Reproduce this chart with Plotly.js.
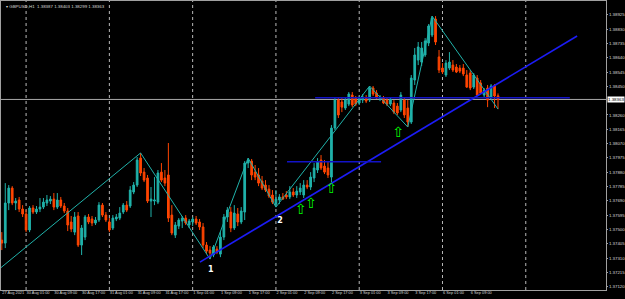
<!DOCTYPE html>
<html>
<head>
<meta charset="utf-8">
<script src="https://cdn.plot.ly/plotly-3.0.1.min.js"></script>
<style>html,body{margin:0;padding:0;background:#000;}#chart{width:625px;height:299px;}</style>
</head>
<body>
<div id="chart"></div>
<script>
// ---- data (GBPUSD H1) ----
const symbolTitle = "GBPUSD,H1  1.38387 1.38403 1.38299 1.38363";
const openP = [1.37430,1.37410,1.37676,1.37775,1.37676,1.37696,1.37636,1.37603,1.37497,1.37643,
1.37616,1.37636,1.37649,1.37676,1.37689,1.37702,1.37649,1.37696,1.37656,1.37623,
1.37550,1.37483,1.37590,1.37397,1.37450,1.37583,1.37570,1.37543,1.37563,1.37662,
1.37596,1.37550,1.37510,1.37570,1.37576,1.37616,1.37662,1.37656,1.37749,1.37795,
1.37974,1.37881,1.37842,1.37689,1.37689,1.37682,1.37881,1.37842,1.37862,1.37596,
1.37463,1.37523,1.37556,1.37576,1.37530,1.37550,1.37570,1.37550,1.37517,1.37397,
1.37364,1.37331,1.37370,1.37337,1.37450,1.37583,1.37616,1.37510,1.37603,1.37550,
1.37616,1.37941,1.37954,1.37881,1.37862,1.37822,1.37795,1.37768,1.37729,1.37669,
1.37696,1.37716,1.37729,1.37716,1.37749,1.37729,1.37749,1.37729,1.37795,1.37782,
1.37842,1.37895,1.37961,1.37921,1.37908,1.37848,1.38173,1.38359,1.38346,1.38306,
1.38332,1.38392,1.38372,1.38339,1.38359,1.38372,1.38359,1.38439,1.38405,1.38366,
1.38372,1.38359,1.38332,1.38339,1.38319,1.38293,1.38359,1.38306,1.38213,1.38492,
1.38624,1.38611,1.38658,1.38737,1.38790,1.38896,1.38645,1.38571,1.38525,1.38571,
1.38591,1.38578,1.38571,1.38571,1.38525,1.38538,1.38445,1.38505,1.38472,1.38392,
1.38439,1.38379,1.38452,1.38387];
const highP = [1.37483,1.37808,1.37795,1.37788,1.37709,1.37716,1.37662,1.37629,1.37656,1.37662,
1.37656,1.37709,1.37709,1.37729,1.37722,1.37742,1.37742,1.37716,1.37676,1.37643,
1.37590,1.37616,1.37616,1.37530,1.37596,1.37603,1.37590,1.37583,1.37682,1.37676,
1.37616,1.37576,1.37596,1.37603,1.37649,1.37676,1.37689,1.37788,1.37815,1.37981,
1.38008,1.37908,1.37862,1.37782,1.37848,1.37895,1.37941,1.37895,1.38074,1.37662,
1.37550,1.37576,1.37590,1.37596,1.37570,1.37583,1.37590,1.37570,1.37543,1.37417,
1.37390,1.37397,1.37390,1.37483,1.37603,1.37649,1.37649,1.37662,1.37643,1.37649,
1.37954,1.37974,1.37968,1.37928,1.37908,1.37855,1.37828,1.37795,1.37762,1.37762,
1.37735,1.37742,1.37755,1.37788,1.37775,1.37788,1.37808,1.37828,1.37828,1.37881,
1.37941,1.37974,1.37994,1.37961,1.37948,1.38193,1.38379,1.38372,1.38372,1.38379,
1.38412,1.38412,1.38386,1.38386,1.38399,1.38392,1.38452,1.38452,1.38425,1.38392,
1.38386,1.38379,1.38379,1.38359,1.38339,1.38412,1.38379,1.38359,1.38525,1.38704,
1.38744,1.38744,1.38770,1.38863,1.38916,1.38916,1.38691,1.38604,1.38624,1.38677,
1.38624,1.38598,1.38591,1.38598,1.38558,1.38558,1.38538,1.38525,1.38492,1.38439,
1.38459,1.38465,1.38465,1.38403];
const lowP = [1.37364,1.37377,1.37629,1.37662,1.37629,1.37616,1.37583,1.37483,1.37483,1.37603,
1.37603,1.37616,1.37636,1.37656,1.37669,1.37629,1.37636,1.37643,1.37609,1.37490,
1.37483,1.37463,1.37384,1.37331,1.37430,1.37536,1.37523,1.37530,1.37550,1.37583,
1.37550,1.37483,1.37497,1.37556,1.37563,1.37603,1.37616,1.37643,1.37735,1.37782,
1.37855,1.37815,1.37676,1.37583,1.37662,1.37669,1.37815,1.37788,1.37550,1.37463,
1.37444,1.37503,1.37510,1.37530,1.37510,1.37523,1.37530,1.37497,1.37377,1.37337,
1.37304,1.37317,1.37337,1.37317,1.37430,1.37550,1.37483,1.37497,1.37523,1.37536,
1.37563,1.37908,1.37828,1.37828,1.37788,1.37762,1.37749,1.37709,1.37669,1.37649,
1.37669,1.37696,1.37702,1.37702,1.37716,1.37709,1.37729,1.37709,1.37768,1.37762,
1.37815,1.37875,1.37895,1.37868,1.37842,1.37815,1.38160,1.38240,1.38279,1.38293,
1.38319,1.38312,1.38319,1.38326,1.38339,1.38339,1.38346,1.38386,1.38366,1.38352,
1.38332,1.38319,1.38319,1.38266,1.38260,1.38279,1.38240,1.38180,1.38200,1.38459,
1.38591,1.38585,1.38645,1.38717,1.38777,1.38724,1.38538,1.38532,1.38512,1.38558,
1.38545,1.38538,1.38538,1.38518,1.38439,1.38425,1.38432,1.38386,1.38399,1.38379,
1.38312,1.38366,1.38306,1.38299];
const closeP = [1.37410,1.37676,1.37775,1.37676,1.37689,1.37636,1.37603,1.37497,1.37643,1.37616,
1.37636,1.37649,1.37682,1.37696,1.37702,1.37649,1.37696,1.37656,1.37623,1.37530,
1.37503,1.37583,1.37397,1.37510,1.37583,1.37550,1.37543,1.37563,1.37662,1.37596,
1.37563,1.37497,1.37576,1.37583,1.37609,1.37662,1.37629,1.37762,1.37795,1.37961,
1.37875,1.37828,1.37689,1.37702,1.37696,1.37875,1.37828,1.37808,1.37576,1.37477,
1.37530,1.37563,1.37576,1.37543,1.37556,1.37570,1.37543,1.37517,1.37397,1.37357,
1.37344,1.37384,1.37350,1.37450,1.37583,1.37629,1.37510,1.37609,1.37550,1.37623,
1.37941,1.37961,1.37862,1.37848,1.37808,1.37775,1.37762,1.37722,1.37682,1.37702,
1.37716,1.37702,1.37716,1.37749,1.37729,1.37755,1.37775,1.37795,1.37782,1.37848,
1.37908,1.37948,1.37908,1.37881,1.37862,1.38173,1.38359,1.38260,1.38312,1.38359,
1.38399,1.38326,1.38332,1.38372,1.38379,1.38352,1.38439,1.38399,1.38372,1.38379,
1.38339,1.38332,1.38366,1.38279,1.38273,1.38392,1.38260,1.38213,1.38505,1.38658,
1.38711,1.38704,1.38751,1.38850,1.38903,1.38744,1.38558,1.38545,1.38604,1.38611,
1.38558,1.38545,1.38551,1.38532,1.38445,1.38439,1.38525,1.38392,1.38405,1.38425,
1.38359,1.38452,1.38386,1.38363];
const barIndex = openP.map((_, i) => i);

const tickBars = [0,7,15,23,31,39,47,55,63,71,79,87,95,103,111,119,127,135];
const tickLabels = ["27 Aug 2021","30 Aug 01:00","30 Aug 09:00","30 Aug 17:00","31 Aug 01:00","31 Aug 09:00",
  "31 Aug 17:00","1 Sep 01:00","1 Sep 09:00","1 Sep 17:00","2 Sep 01:00","2 Sep 09:00","2 Sep 17:00",
  "3 Sep 01:00","3 Sep 09:00","3 Sep 17:00","6 Sep 01:00","6 Sep 09:00"];
const dayGridBars = [7,31,55,79,103,127,151];
const priceTicks = [1.37120,1.37215,1.37310,1.37405,1.37500,1.37595,1.37690,1.37785,1.37880,1.37975,
  1.38070,1.38165,1.38260,1.38450,1.38545,1.38640,1.38735,1.38830,1.38925];
const currentPrice = 1.38363;

const zigzagBars = [-1,40,60,71,79,106,117,124,143];
const zigzagPrices = [1.37233,1.38008,1.37304,1.37974,1.37649,1.38452,1.38180,1.38916,1.38299];
const trendBars = [57.1,165.8];
const trendPrices = [1.37284,1.38784];
const upperLevelBars = [90.3,163.7];
const upperLevelPrice = 1.38374;
const lowerLevelBars = [82.2,109.3];
const lowerLevelPrice = 1.37950;
const arrowBars = [86.1,89.1,94.9,114.2];
const arrowPrices = [1.37626,1.37666,1.37765,1.38140];
const pointLabels = ["1","2"];
const pointLabelBars = [60.2,80.2];
const pointLabelPrices = [1.37231,1.37558];

// ---- styles ----
const TEAL = "#20b2aa", ORANGE = "#ff4500", BLUE = "#1c1cf5";
const FAM = "Liberation Sans, Arial, sans-serif";
const smallFont = {family: FAM, size: 4.4, color: "#d8d8d8"};
const xFont = {family: FAM, size: 3.9, color: "#d8d8d8"};

const traces = [
  {type: "candlestick", x: barIndex, open: openP, high: highP, low: lowP, close: closeP,
   increasing: {line: {color: TEAL, width: 1}, fillcolor: TEAL},
   decreasing: {line: {color: ORANGE, width: 1}, fillcolor: ORANGE},
   whiskerwidth: 0, hoverinfo: "skip", showlegend: false},
  {type: "scatter", mode: "lines", x: zigzagBars, y: zigzagPrices,
   line: {color: TEAL, width: 1}, hoverinfo: "skip", showlegend: false},
  {type: "scatter", mode: "lines", x: trendBars, y: trendPrices,
   line: {color: BLUE, width: 1.6}, hoverinfo: "skip", showlegend: false},
  {type: "scatter", mode: "lines", x: upperLevelBars, y: [upperLevelPrice, upperLevelPrice],
   line: {color: "#1212c8", width: 1.6}, hoverinfo: "skip", showlegend: false},
  {type: "scatter", mode: "lines", x: lowerLevelBars, y: [lowerLevelPrice, lowerLevelPrice],
   line: {color: "#1212c8", width: 1.6}, hoverinfo: "skip", showlegend: false},
  {type: "scatter", mode: "text", x: arrowBars, y: arrowPrices, text: arrowBars.map(() => "⇧"),
   textposition: "middle center", textfont: {family: "DejaVu Sans", size: 14, color: "#00ff00"},
   hoverinfo: "skip", showlegend: false},
  {type: "scatter", mode: "text", x: pointLabelBars, y: pointLabelPrices, text: pointLabels,
   textposition: "middle center", textfont: {family: "DejaVu Sans", size: 8, color: "#ffffff", weight: "bold"},
   hoverinfo: "skip", showlegend: false}
];

const shapes = dayGridBars.map(b => ({type: "line", xref: "x", yref: "paper", x0: b, x1: b, y0: 0, y1: 1,
  line: {color: "#b8b8b8", width: 1, dash: "dot"}, layer: "below"}));
shapes.push({type: "line", xref: "paper", yref: "y", x0: 0, x1: 1, y0: currentPrice, y1: currentPrice,
  line: {color: "#a8a8a8", width: 1}, layer: "below"});

const layout = {
  width: 625, height: 299,
  margin: {l: 1, r: 19, t: 1, b: 9, pad: 0},
  paper_bgcolor: "#000000", plot_bgcolor: "#000000",
  showlegend: false,
  font: smallFont,
  xaxis: {type: "linear", range: [-0.23, 174.12], showgrid: false, zeroline: false,
    showline: true, mirror: true, linecolor: "#a0a0a0", linewidth: 1,
    tickmode: "array", tickvals: tickBars, ticktext: tickLabels, tickangle: 0,
    ticks: "", ticklabelposition: "outside right", ticklabelstandoff: -2, tickfont: xFont,
    rangeslider: {visible: false}, fixedrange: true},
  yaxis: {side: "right", range: [1.37099, 1.39016], showgrid: false, zeroline: false,
    showline: true, mirror: true, linecolor: "#a0a0a0", linewidth: 1,
    tickmode: "array", tickvals: priceTicks, ticktext: priceTicks.map(v => v.toFixed(5)),
    ticks: "outside", ticklen: 1, tickcolor: "#a0a0a0", tickfont: smallFont, fixedrange: true},
  shapes: shapes,
  annotations: [
    {xref: "paper", yref: "paper", x: 0, y: 1, xanchor: "left", yanchor: "top", xshift: 3, yshift: -1,
     text: "▾ " + symbolTitle, showarrow: false, font: smallFont},
    {xref: "paper", yref: "y", x: 1, y: currentPrice, xanchor: "left", yanchor: "middle", xshift: 1,
     text: currentPrice.toFixed(5), showarrow: false, bgcolor: "#ffffff", borderpad: 0,
     font: {family: FAM, size: 4.4, color: "#000000"}}
  ]
};

Plotly.newPlot("chart", traces, layout, {staticPlot: true, displayModeBar: false});
</script>
</body>
</html>
